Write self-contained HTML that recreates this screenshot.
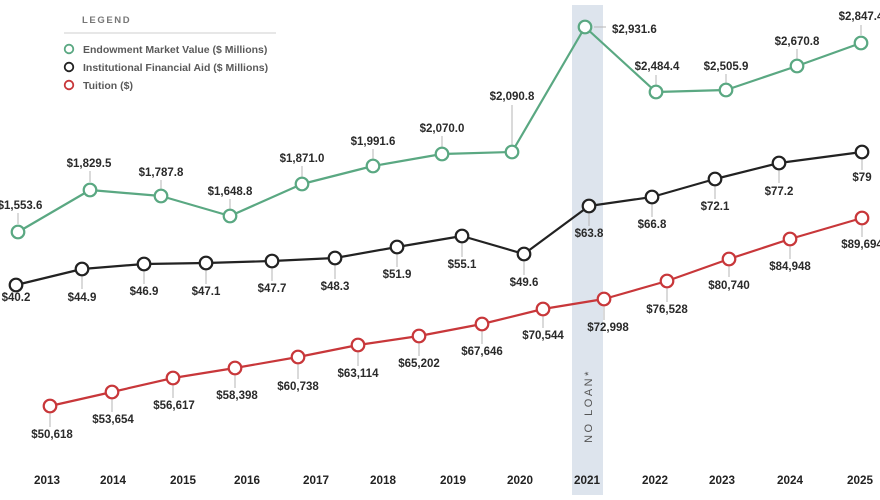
<!DOCTYPE html>
<html>
<head>
<meta charset="utf-8">
<style>
html,body{margin:0;padding:0;background:#fff;}
svg{display:block;}
text{font-family:"Liberation Sans",sans-serif;}
.lbl{font-size:11.5px;font-weight:bold;fill:#2a2a2a;text-anchor:middle;}
.yr{font-size:11.7px;font-weight:bold;fill:#222;text-anchor:middle;}
.lead{stroke:#b5b5b5;stroke-width:1;}
.leg{font-size:10.5px;font-weight:bold;fill:#5a5a5a;}
</style>
</head>
<body>
<svg width="880" height="500" viewBox="0 0 880 500" xmlns="http://www.w3.org/2000/svg">
<rect x="0" y="0" width="880" height="500" fill="#fff"/>
<!-- band -->
<rect x="572" y="5" width="31" height="490" fill="#dde4ed"/>
<text x="0" y="0" transform="translate(592,406) rotate(-90)" text-anchor="middle" font-size="11" fill="#555" letter-spacing="2.5">NO LOAN*</text>

<!-- legend -->
<text x="82" y="23" font-size="9.5" font-weight="bold" fill="#777" letter-spacing="1.6">LEGEND</text>
<line x1="64" y1="33" x2="276" y2="33" stroke="#cfcfcf" stroke-width="1"/>
<circle cx="69" cy="49" r="4.3" fill="#fff" stroke="#5aa882" stroke-width="1.8"/>
<circle cx="69" cy="67" r="4.3" fill="#fff" stroke="#222" stroke-width="1.8"/>
<circle cx="69" cy="85" r="4.3" fill="#fff" stroke="#c8373a" stroke-width="1.8"/>
<text class="leg" x="83" y="53">Endowment Market Value ($ Millions)</text>
<text class="leg" x="83" y="71">Institutional Financial Aid ($ Millions)</text>
<text class="leg" x="83" y="89">Tuition ($)</text>

<!-- leader lines green (above) -->
<g class="lead">
<line x1="18" y1="224" x2="18" y2="213"/>
<line x1="90" y1="182" x2="90" y2="171"/>
<line x1="161" y1="189" x2="161" y2="180"/>
<line x1="230" y1="209" x2="230" y2="199"/>
<line x1="302" y1="177" x2="302" y2="166"/>
<line x1="373" y1="159" x2="373" y2="149"/>
<line x1="442" y1="147" x2="442" y2="136"/>
<line x1="512" y1="145" x2="512" y2="105"/>
<line x1="594" y1="27" x2="606" y2="27"/>
<line x1="656" y1="85" x2="656" y2="75"/>
<line x1="726" y1="83" x2="726" y2="74"/>
<line x1="797" y1="59" x2="797" y2="49"/>
<line x1="861" y1="35" x2="861" y2="25"/>
</g>
<!-- leader lines black (below) -->
<g class="lead">
<line x1="82" y1="276" x2="82" y2="289"/>
<line x1="144" y1="271" x2="144" y2="284"/>
<line x1="206" y1="270" x2="206" y2="284"/>
<line x1="272" y1="268" x2="272" y2="281"/>
<line x1="335" y1="265" x2="335" y2="279"/>
<line x1="397" y1="254" x2="397" y2="267"/>
<line x1="462" y1="243" x2="462" y2="257"/>
<line x1="524" y1="261" x2="524" y2="275"/>
<line x1="589" y1="213" x2="589" y2="226"/>
<line x1="652" y1="204" x2="652" y2="217"/>
<line x1="715" y1="186" x2="715" y2="199"/>
<line x1="779" y1="170" x2="779" y2="183"/>
<line x1="862" y1="159" x2="862" y2="170"/>
</g>
<!-- leader lines red (below) -->
<g class="lead">
<line x1="50" y1="413" x2="50" y2="427"/>
<line x1="112" y1="399" x2="112" y2="412"/>
<line x1="173" y1="385" x2="173" y2="398"/>
<line x1="235" y1="375" x2="235" y2="388"/>
<line x1="298" y1="364" x2="298" y2="379"/>
<line x1="358" y1="352" x2="358" y2="366"/>
<line x1="419" y1="343" x2="419" y2="356"/>
<line x1="482" y1="331" x2="482" y2="344"/>
<line x1="543" y1="316" x2="543" y2="328"/>
<line x1="604" y1="306" x2="604" y2="320"/>
<line x1="667" y1="288" x2="667" y2="302"/>
<line x1="729" y1="266" x2="729" y2="277"/>
<line x1="790" y1="246" x2="790" y2="259"/>
<line x1="862" y1="225" x2="862" y2="237"/>
</g>

<!-- green series -->
<polyline fill="none" stroke="#5aa882" stroke-width="2.2" stroke-linejoin="round"
 points="18,232 90,190 161,196 230,216 302,184 373,166 442,154 512,152 585,27 656,92 726,90 797,66 861,43"/>
<g fill="#fff" stroke="#5aa882" stroke-width="2.2">
<circle cx="18" cy="232" r="6.3"/><circle cx="90" cy="190" r="6.3"/><circle cx="161" cy="196" r="6.3"/>
<circle cx="230" cy="216" r="6.3"/><circle cx="302" cy="184" r="6.3"/><circle cx="373" cy="166" r="6.3"/>
<circle cx="442" cy="154" r="6.3"/><circle cx="512" cy="152" r="6.3"/><circle cx="585" cy="27" r="6.3"/>
<circle cx="656" cy="92" r="6.3"/><circle cx="726" cy="90" r="6.3"/><circle cx="797" cy="66" r="6.3"/>
<circle cx="861" cy="43" r="6.3"/>
</g>

<!-- black series -->
<polyline fill="none" stroke="#222" stroke-width="2.2" stroke-linejoin="round"
 points="16,285 82,269 144,264 206,263 272,261 335,258 397,247 462,236 524,254 589,206 652,197 715,179 779,163 862,152"/>
<g fill="#fff" stroke="#222" stroke-width="2.2">
<circle cx="16" cy="285" r="6.3"/><circle cx="82" cy="269" r="6.3"/><circle cx="144" cy="264" r="6.3"/>
<circle cx="206" cy="263" r="6.3"/><circle cx="272" cy="261" r="6.3"/><circle cx="335" cy="258" r="6.3"/>
<circle cx="397" cy="247" r="6.3"/><circle cx="462" cy="236" r="6.3"/><circle cx="524" cy="254" r="6.3"/>
<circle cx="589" cy="206" r="6.3"/><circle cx="652" cy="197" r="6.3"/><circle cx="715" cy="179" r="6.3"/>
<circle cx="779" cy="163" r="6.3"/><circle cx="862" cy="152" r="6.3"/>
</g>

<!-- red series -->
<polyline fill="none" stroke="#c8373a" stroke-width="2.2" stroke-linejoin="round"
 points="50,406 112,392 173,378 235,368 298,357 358,345 419,336 482,324 543,309 604,299 667,281 729,259 790,239 862,218"/>
<g fill="#fff" stroke="#c8373a" stroke-width="2.2">
<circle cx="50" cy="406" r="6.3"/><circle cx="112" cy="392" r="6.3"/><circle cx="173" cy="378" r="6.3"/>
<circle cx="235" cy="368" r="6.3"/><circle cx="298" cy="357" r="6.3"/><circle cx="358" cy="345" r="6.3"/>
<circle cx="419" cy="336" r="6.3"/><circle cx="482" cy="324" r="6.3"/><circle cx="543" cy="309" r="6.3"/>
<circle cx="604" cy="299" r="6.3"/><circle cx="667" cy="281" r="6.3"/><circle cx="729" cy="259" r="6.3"/>
<circle cx="790" cy="239" r="6.3"/><circle cx="862" cy="218" r="6.3"/>
</g>

<!-- green labels -->
<text class="lbl" x="20" y="209">$1,553.6</text>
<text class="lbl" x="89" y="167">$1,829.5</text>
<text class="lbl" x="161" y="176">$1,787.8</text>
<text class="lbl" x="230" y="195">$1,648.8</text>
<text class="lbl" x="302" y="162">$1,871.0</text>
<text class="lbl" x="373" y="145">$1,991.6</text>
<text class="lbl" x="442" y="132">$2,070.0</text>
<text class="lbl" x="512" y="100">$2,090.8</text>
<text class="lbl" x="612" y="33" style="text-anchor:start">$2,931.6</text>
<text class="lbl" x="657" y="70">$2,484.4</text>
<text class="lbl" x="726" y="70">$2,505.9</text>
<text class="lbl" x="797" y="45">$2,670.8</text>
<text class="lbl" x="861" y="20">$2,847.4</text>

<!-- black labels -->
<text class="lbl" x="16" y="301">$40.2</text>
<text class="lbl" x="82" y="301">$44.9</text>
<text class="lbl" x="144" y="295">$46.9</text>
<text class="lbl" x="206" y="295">$47.1</text>
<text class="lbl" x="272" y="292">$47.7</text>
<text class="lbl" x="335" y="290">$48.3</text>
<text class="lbl" x="397" y="278">$51.9</text>
<text class="lbl" x="462" y="268">$55.1</text>
<text class="lbl" x="524" y="286">$49.6</text>
<text class="lbl" x="589" y="237">$63.8</text>
<text class="lbl" x="652" y="228">$66.8</text>
<text class="lbl" x="715" y="210">$72.1</text>
<text class="lbl" x="779" y="195">$77.2</text>
<text class="lbl" x="862" y="181">$79</text>

<!-- red labels -->
<text class="lbl" x="52" y="438">$50,618</text>
<text class="lbl" x="113" y="423">$53,654</text>
<text class="lbl" x="174" y="409">$56,617</text>
<text class="lbl" x="237" y="399">$58,398</text>
<text class="lbl" x="298" y="390">$60,738</text>
<text class="lbl" x="358" y="377">$63,114</text>
<text class="lbl" x="419" y="367">$65,202</text>
<text class="lbl" x="482" y="355">$67,646</text>
<text class="lbl" x="543" y="339">$70,544</text>
<text class="lbl" x="608" y="331">$72,998</text>
<text class="lbl" x="667" y="313">$76,528</text>
<text class="lbl" x="729" y="289">$80,740</text>
<text class="lbl" x="790" y="270">$84,948</text>
<text class="lbl" x="862" y="248">$89,694</text>

<!-- years -->
<text class="yr" x="47" y="484">2013</text>
<text class="yr" x="113" y="484">2014</text>
<text class="yr" x="183" y="484">2015</text>
<text class="yr" x="247" y="484">2016</text>
<text class="yr" x="316" y="484">2017</text>
<text class="yr" x="383" y="484">2018</text>
<text class="yr" x="453" y="484">2019</text>
<text class="yr" x="520" y="484">2020</text>
<text class="yr" x="587" y="484">2021</text>
<text class="yr" x="655" y="484">2022</text>
<text class="yr" x="722" y="484">2023</text>
<text class="yr" x="790" y="484">2024</text>
<text class="yr" x="860" y="484">2025</text>
</svg>
</body>
</html>
